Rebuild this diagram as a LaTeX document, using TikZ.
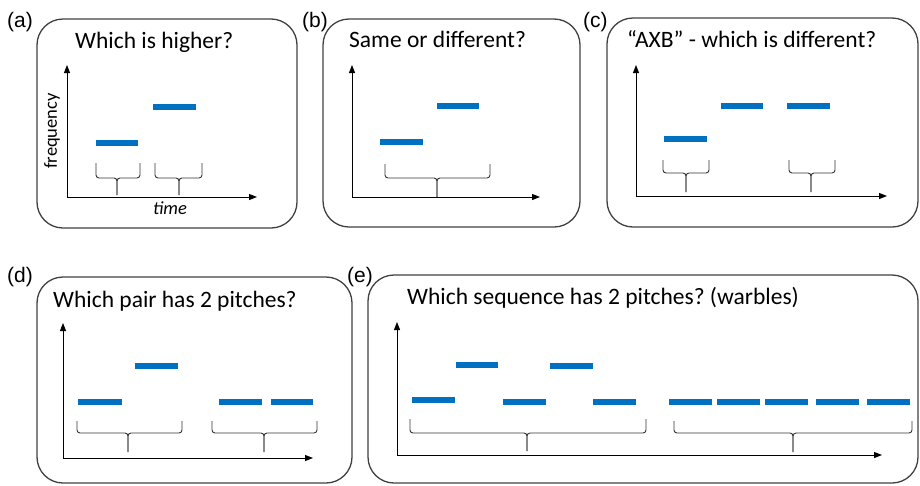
\documentclass[tikz,border=0pt]{standalone}
\usepackage{fontspec}
\setmainfont{Carlito}
\newfontfamily\tagfont{Liberation Sans}
\usetikzlibrary{arrows.meta}
\definecolor{tonebar}{RGB}{0,112,192}
\frenchspacing
\newcommand{\tonebrace}[6]{%
  \draw[brace] (#1,#4) -- (#1,#5) -- (#3,#5) -- (#3,#6);
  \draw[brace] (#2,#4) -- (#2,#5) -- (#3,#5) -- (#3,#6);}

\begin{document}
\begin{tikzpicture}[x=1pt,y=-1pt,
    panel/.style={draw=black!75,line width=1.3pt,rounded corners=26pt},
    tone/.style={draw=tonebar,line width=6pt},
    axis/.style={line width=1pt,{Triangle[length=8pt,width=6pt]}-{Triangle[length=8pt,width=6pt]}},
    brace/.style={draw=black!80,line width=0.9pt,rounded corners=3pt},
    title/.style={anchor=base west,inner sep=0pt,font=\fontsize{23.5}{28}\selectfont},
    tag/.style={anchor=base west,inner sep=0pt,font=\tagfont\fontsize{21}{25}\selectfont}]
    \useasboundingbox (0,0) rectangle (920,485);

    \draw[panel] (37,19) rectangle (297,228);
    \draw[panel] (323,19) rectangle (580,227);
    \draw[panel] (607,18) rectangle (918,227);
    \draw[panel] (37,277) rectangle (352,483);
    \draw[panel] (368,275) rectangle (918,483);

    \node[tag] (tagA) at (7,27) {(a)};
    \node[tag] (tagB) at (302,27) {(b)};
    \node[tag] (tagC) at (583,27) {(c)};
    \node[tag] (tagD) at (7,282) {(d)};
    \node[tag] (tagE) at (347,282) {(e)};

    \node[title] (higher) at (75,48) {Which is higher?};
    \node[title] (same) at (349,47) {Same or different?};
    \node[title] (axb) at (627,47) {“AXB” - which is different?};
    \node[title] (pair) at (53,307) {Which pair has 2 pitches?};
    \node[title] (warble) at (407,304) {Which sequence has 2 pitches? (warbles)};

    \draw[axis] (67,65) |- (257,197);
    \draw[axis] (352,65) |- (540,197);
    \draw[axis] (636,65) |- (887,196);
    \draw[axis] (63,323) |- (313,458);
    \draw[axis] (397,322) |- (882,455);
    \node[rotate=90,font=\fontsize{18.5}{22}\selectfont] (freq) at (52,131) {frequency};
    \node[font=\fontsize{18.5}{22}\selectfont\itshape] (time) at (170,208) {time};

    \draw[tone] (96,143) -- (138,143);
    \draw[tone] (153,107) -- (196,107);
    \draw[tone] (380,142) -- (423,142);
    \draw[tone] (437,106) -- (479,106);
    \draw[tone] (664,139) -- (707,139);
    \draw[tone] (721,106) -- (763,106);
    \draw[tone] (787,106) -- (830,106);
    \draw[tone] (78,402) -- (122,402);
    \draw[tone] (135,366) -- (178,366);
    \draw[tone] (219,402) -- (262,402);
    \draw[tone] (271,402) -- (313,402);
    \draw[tone] (412,400) -- (455,400);
    \draw[tone] (456,365) -- (498,365);
    \draw[tone] (503,402) -- (546,402);
    \draw[tone] (550,366) -- (593,366);
    \draw[tone] (593,402) -- (636,402);
    \foreach \x in {669,717,765,816,867}
      \draw[tone] (\x,402) -- (\x+43,402);

    \tonebrace{96}{140}{117}{163}{178}{195}
    \tonebrace{155}{202}{179}{163}{178}{195}
    \tonebrace{385}{490}{437}{164}{178}{197}
    \tonebrace{663}{709}{686}{160}{173}{192}
    \tonebrace{789}{835}{811}{160}{173}{192}
    \tonebrace{77}{182}{128}{421}{433}{452}
    \tonebrace{212}{317}{264}{421}{433}{452}
    \tonebrace{410}{646}{527}{419}{433}{451}
    \tonebrace{674}{912}{793}{421}{433}{452}
  \end{tikzpicture}
\end{document}
